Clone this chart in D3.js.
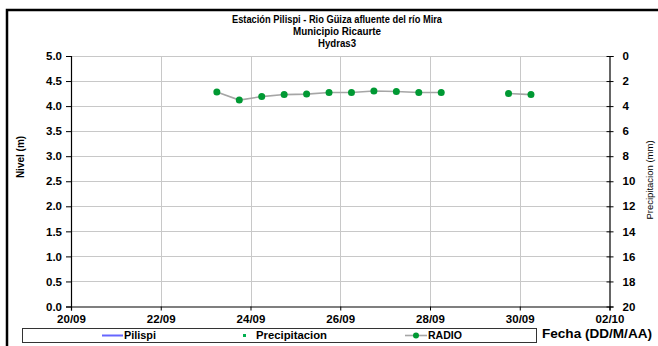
<!DOCTYPE html>
<html>
<head>
<meta charset="utf-8">
<script src="https://cdn.jsdelivr.net/npm/d3@7"></script>
<style>
  html, body { margin: 0; padding: 0; background: #fff; }
  svg { display: block; font-family: "Liberation Sans", Arial, sans-serif; }
</style>
</head>
<body>
<svg id="chart" width="658" height="346"></svg>
<script>
// Titles
const titleLines = [
  "Estación Pilispi - Rio Güiza afluente del río Mira",
  "Municipio Ricaurte",
  "Hydras3"
];

// Series data (nivel in metres). null marks a missing reading.
const radioTimes = [
  "2012-09-23 06:00", "2012-09-23 18:00", "2012-09-24 06:00", "2012-09-24 18:00",
  "2012-09-25 06:00", "2012-09-25 18:00", "2012-09-26 06:00", "2012-09-26 18:00",
  "2012-09-27 06:00", "2012-09-27 18:00", "2012-09-28 06:00", "2012-09-28 18:00",
  "2012-09-29 06:00", "2012-09-29 18:00", "2012-09-30 06:00"
];
const radioValues = [
  4.28, 4.12, 4.19, 4.23,
  4.24, 4.27, 4.27, 4.30,
  4.29, 4.27, 4.27, null,
  null, 4.25, 4.23
];
const pilispiValues = [];        // no readings in this period
const precipitacionValues = [];  // no readings in this period

// Axes
const xDomain = ["2012-09-20 00:00", "2012-10-02 00:00"];
const xTickDates = ["2012-09-20", "2012-09-22", "2012-09-24", "2012-09-26", "2012-09-28", "2012-09-30", "2012-10-02"];
const nivelTicks = [0, 0.5, 1, 1.5, 2, 2.5, 3, 3.5, 4, 4.5, 5];
const precipTicks = [0, 2, 4, 6, 8, 10, 12, 14, 16, 18, 20];

const legendLabels = ["Pilispi", "Precipitacion", "RADIO"];

const parseT = d3.timeParse("%Y-%m-%d %H:%M");
const parseD = d3.timeParse("%Y-%m-%d");
const fmt = d3.timeFormat("%d/%m");

const svg = d3.select("#chart");
const plot = { left: 71, right: 609.5, top: 56, bottom: 306.5 };

const x = d3.scaleTime()
  .domain(xDomain.map(parseT))
  .range([plot.left, plot.right]);
const y = d3.scaleLinear().domain([0, 5]).range([plot.bottom, plot.top]);
const yP = d3.scaleLinear().domain([0, 20]).range([plot.top, plot.bottom]);

// outer frame
svg.append("path")
  .attr("d", "M7,346 V10 H660")
  .attr("fill", "none").attr("stroke", "#000").attr("stroke-width", 2.5);

// titles (fitted widths)
const titleWidths = [210, 88, 38];
const title = svg.append("g").attr("font-weight", "bold").attr("font-size", 10.5).attr("text-anchor", "middle");
titleLines.forEach((t, i) => {
  title.append("text").attr("x", 337).attr("y", 23 + i * 12)
    .attr("textLength", titleWidths[i]).attr("lengthAdjust", "spacingAndGlyphs").text(t);
});

// gridlines
const grid = svg.append("g").attr("stroke", "#c8c8c8").attr("stroke-width", 1);
nivelTicks.filter(v => v > 0).forEach(v => {
  grid.append("line").attr("x1", plot.left).attr("x2", plot.right)
    .attr("y1", Math.round(y(v)) + 0.5).attr("y2", Math.round(y(v)) + 0.5);
});
xTickDates.slice(1, -1).forEach(d => {
  const px = Math.round(x(parseD(d))) + 0.5;
  grid.append("line").attr("x1", px).attr("x2", px).attr("y1", plot.top).attr("y2", plot.bottom);
});

// left axis
const yAxis = d3.axisLeft(y).tickValues(nivelTicks).tickFormat(d3.format(".1f")).tickSize(5).tickPadding(4);
const gy = svg.append("g").attr("transform", `translate(${plot.left},0)`).call(yAxis);

// right axis
const yAxisR = d3.axisRight(yP).tickValues(precipTicks).tickFormat(d3.format("d")).tickSize(4).tickPadding(9);
const gyr = svg.append("g").attr("transform", `translate(${plot.right},0)`).call(yAxisR);
gyr.selectAll(".tick line").attr("x1", -3);

// bottom axis
const xAxis = d3.axisBottom(x).tickValues(xTickDates.map(parseD)).tickFormat(fmt).tickSize(4).tickPadding(4);
const gx = svg.append("g").attr("transform", `translate(0,${plot.bottom})`).call(xAxis);

[gy, gyr, gx].forEach(g => {
  g.select(".domain").attr("stroke", "#000").attr("stroke-width", 1.2);
  g.selectAll(".tick line").attr("stroke", "#000");
  g.selectAll(".tick text").attr("fill", "#000").attr("font-weight", "bold")
    .attr("font-size", 11.5).attr("font-family", "Liberation Sans, Arial, sans-serif");
});

// axis titles
svg.append("text")
  .attr("transform", "translate(24,157) rotate(-90)")
  .attr("text-anchor", "middle").attr("font-size", 10).attr("font-weight", "bold")
  .text("Nivel (m)");
svg.append("text")
  .attr("transform", "translate(653,180) rotate(-90)")
  .attr("text-anchor", "middle").attr("font-size", 9.5)
  .text("Precipitacion (mm)");

// RADIO series
const radio = radioTimes.map((t, i) => ({ t: parseT(t), v: radioValues[i] }));
const line = d3.line().defined(d => d.v != null).x(d => x(d.t)).y(d => y(d.v));
svg.append("path").datum(radio)
  .attr("d", line).attr("fill", "none").attr("stroke", "#a6a6a6").attr("stroke-width", 1.6);
svg.append("g").selectAll("circle").data(radio.filter(d => d.v != null)).join("circle")
  .attr("cx", d => x(d.t)).attr("cy", d => y(d.v)).attr("r", 3.5)
  .attr("fill", "#009933");

// legend
const lg = svg.append("g");
lg.append("rect").attr("x", 22.5).attr("y", 328.5).attr("width", 514).attr("height", 14)
  .attr("fill", "#fff").attr("stroke", "#333").attr("stroke-width", 1);
const ly = 335.5;
lg.append("line").attr("x1", 102).attr("x2", 123).attr("y1", ly).attr("y2", ly)
  .attr("stroke", "#6666ff").attr("stroke-width", 2);
lg.append("rect").attr("x", 243).attr("y", ly - 1.5).attr("width", 3).attr("height", 3).attr("fill", "#00b050");
lg.append("line").attr("x1", 405).attr("x2", 427).attr("y1", ly).attr("y2", ly)
  .attr("stroke", "#a6a6a6").attr("stroke-width", 1.6);
lg.append("circle").attr("cx", 416).attr("cy", ly).attr("r", 3).attr("fill", "#009933");
const legendX = [124, 256, 428];
const legendW = [32, 71, 34];
legendLabels.forEach((t, i) => {
  lg.append("text").attr("x", legendX[i]).attr("y", ly + 3.5)
    .attr("font-size", 10).attr("font-weight", "bold")
    .attr("textLength", legendW[i]).attr("lengthAdjust", "spacingAndGlyphs").text(t);
});

svg.append("text").attr("x", 542).attr("y", 337.5).attr("font-size", 12).attr("font-weight", "bold")
  .attr("textLength", 110).attr("lengthAdjust", "spacingAndGlyphs")
  .text("Fecha (DD/M/AA)");
</script>
</body>
</html>
